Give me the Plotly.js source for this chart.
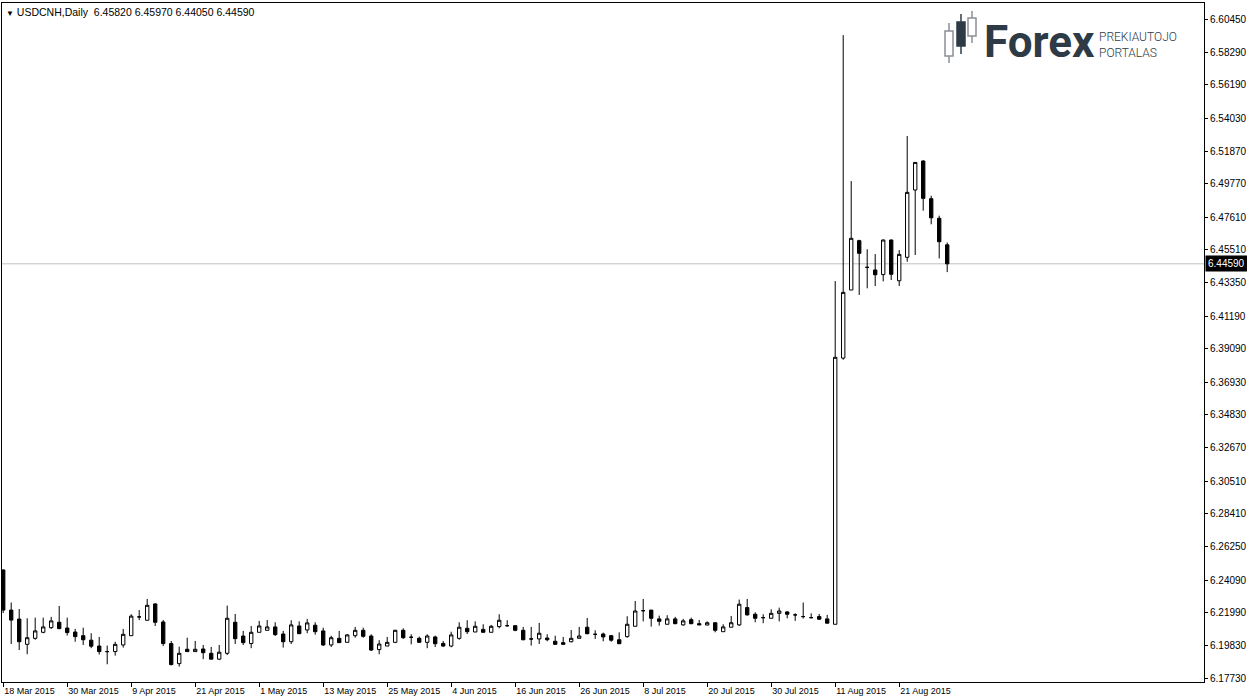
<!DOCTYPE html>
<html>
<head>
<meta charset="utf-8">
<script src="https://cdn.plot.ly/plotly-3.0.1.min.js"></script>
<style>
  html, body { margin: 0; padding: 0; background: #ffffff; }
  #chart { width: 1247px; height: 700px; }
</style>
</head>
<body>
<div id="chart"></div>
<script>
// ---- Data ----
const symbolTitle = "USDCNH,Daily";
const firstDate = "2015-03-18";

const openVals = [
  6.2475, 6.2215, 6.2157, 6.1993, 6.2032, 6.2071, 6.2101, 6.2136, 6.2099, 6.2073,
  6.2049, 6.2020, 6.1982, 6.1946, 6.1946, 6.1989, 6.2049, 6.2171, 6.2149, 6.2255,
  6.2138, 6.1998, 6.1868, 6.1961, 6.1946, 6.1963, 6.1935, 6.1897, 6.1935, 6.2136,
  6.2047, 6.1998, 6.2071, 6.2084, 6.2106, 6.2060, 6.2010, 6.2112, 6.2086, 6.2117,
  6.2080, 6.1989, 6.2032, 6.2006, 6.2049, 6.2084, 6.2047, 6.1959, 6.1982, 6.2006,
  6.2084, 6.2039, 6.2032, 6.2006, 6.2041, 6.1999, 6.1982, 6.2032, 6.2097, 6.2073,
  6.2090, 6.2071, 6.2108, 6.2114, 6.2114, 6.2084, 6.2028, 6.2028, 6.2034, 6.2013,
  6.2004, 6.2010, 6.2032, 6.2104, 6.2058, 6.2060, 6.2049, 6.2023, 6.2043, 6.2110,
  6.2211, 6.2215, 6.2158, 6.2123, 6.2158, 6.2119, 6.2153, 6.2127, 6.2118, 6.2133,
  6.2075, 6.2104, 6.2119, 6.2231, 6.2188, 6.2166, 6.2162, 6.2194, 6.2203, 6.2184,
  6.2173, 6.2166, 6.2173, 6.2158, 6.2123, 6.3848, 6.4289, 6.4609, 6.4436, 6.4419,
  6.4389, 6.4613, 6.4349, 6.4501, 6.4937, 6.5125, 6.4881, 6.4754, 6.4582
];
const highVals = [
  6.2478, 6.2264, 6.2222, 6.2162, 6.2166, 6.2166, 6.2171, 6.2242, 6.2166, 6.2093,
  6.2101, 6.2065, 6.2041, 6.1985, 6.2010, 6.2093, 6.2188, 6.2215, 6.2287, 6.2259,
  6.2151, 6.2015, 6.1978, 6.2036, 6.2015, 6.1989, 6.1976, 6.1989, 6.2244, 6.2190,
  6.2080, 6.2112, 6.2145, 6.2151, 6.2136, 6.2080, 6.2149, 6.2142, 6.2158, 6.2136,
  6.2101, 6.2049, 6.2080, 6.2060, 6.2106, 6.2101, 6.2058, 6.2020, 6.2041, 6.2088,
  6.2097, 6.2058, 6.2043, 6.2058, 6.2049, 6.2015, 6.2075, 6.2136, 6.2149, 6.2142,
  6.2123, 6.2119, 6.2188, 6.2149, 6.2114, 6.2106, 6.2106, 6.2132, 6.2058, 6.2049,
  6.2041, 6.2086, 6.2106, 6.2164, 6.2084, 6.2069, 6.2054, 6.2071, 6.2175, 6.2274,
  6.2287, 6.2215, 6.2179, 6.2182, 6.2171, 6.2158, 6.2166, 6.2151, 6.2142, 6.2136,
  6.2123, 6.2177, 6.2283, 6.2287, 6.2201, 6.2188, 6.2220, 6.2231, 6.2209, 6.2194,
  6.2264, 6.2194, 6.2190, 6.2184, 6.4347, 6.5941, 6.4995, 6.4615, 6.4553, 6.4522,
  6.4617, 6.4617, 6.4548, 6.5287, 6.5116, 6.5131, 6.4900, 6.4771, 6.4597
];
const lowVals = [
  6.2196, 6.1995, 6.1956, 6.1929, 6.2023, 6.2065, 6.2093, 6.2091, 6.2050, 6.2010,
  6.1989, 6.1968, 6.1927, 6.1864, 6.1920, 6.1972, 6.2049, 6.2150, 6.2149, 6.2112,
  6.1982, 6.1856, 6.1849, 6.1946, 6.1946, 6.1897, 6.1897, 6.1891, 6.1924, 6.1995,
  6.1989, 6.1968, 6.2071, 6.2084, 6.2047, 6.1972, 6.1995, 6.2062, 6.2065, 6.2056,
  6.1982, 6.1976, 6.2004, 6.2006, 6.2036, 6.2036, 6.1950, 6.1929, 6.1982, 6.2001,
  6.2028, 6.1993, 6.2006, 6.1968, 6.1976, 6.1976, 6.1974, 6.2023, 6.2060, 6.2073,
  6.2071, 6.2071, 6.2097, 6.2106, 6.2078, 6.2019, 6.1985, 6.1995, 6.2013, 6.1993,
  6.1993, 6.2006, 6.2032, 6.2058, 6.2028, 6.2013, 6.2010, 6.1997, 6.2036, 6.2110,
  6.2142, 6.2108, 6.2114, 6.2123, 6.2123, 6.2114, 6.2123, 6.2119, 6.2118, 6.2071,
  6.2075, 6.2104, 6.2112, 6.2179, 6.2136, 6.2130, 6.2162, 6.2142, 6.2162, 6.2145,
  6.2160, 6.2162, 6.2151, 6.2130, 6.2123, 6.3837, 6.4289, 6.4257, 6.4300, 6.4315,
  6.4345, 6.4354, 6.4315, 6.4472, 6.4516, 6.4803, 6.4715, 6.4494, 6.4405
];
const closeVals = [
  6.2215, 6.2150, 6.2010, 6.2036, 6.2080, 6.2106, 6.2145, 6.2095, 6.2069, 6.2043,
  6.2023, 6.1981, 6.1946, 6.1946, 6.1993, 6.2058, 6.2176, 6.2171, 6.2246, 6.2136,
  6.1998, 6.1862, 6.1935, 6.1946, 6.1961, 6.1939, 6.1897, 6.1942, 6.2162, 6.2030,
  6.2004, 6.2071, 6.2112, 6.2106, 6.2056, 6.2010, 6.2119, 6.2062, 6.2132, 6.2075,
  6.1989, 6.2036, 6.2004, 6.2054, 6.2084, 6.2045, 6.1956, 6.1995, 6.2006, 6.2084,
  6.2036, 6.2039, 6.2006, 6.2047, 6.1997, 6.1982, 6.2054, 6.2104, 6.2075, 6.2110,
  6.2071, 6.2110, 6.2149, 6.2114, 6.2084, 6.2023, 6.2028, 6.2065, 6.2023, 6.1993,
  6.1993, 6.2032, 6.2047, 6.2062, 6.2058, 6.2041, 6.2020, 6.1997, 6.2123, 6.2209,
  6.2211, 6.2162, 6.2142, 6.2158, 6.2127, 6.2145, 6.2127, 6.2119, 6.2133, 6.2084,
  6.2106, 6.2133, 6.2253, 6.2184, 6.2162, 6.2166, 6.2194, 6.2209, 6.2188, 6.2184,
  6.2173, 6.2166, 6.2156, 6.2130, 6.3853, 6.4274, 6.4624, 6.4527, 6.4436, 6.4388,
  6.4613, 6.4391, 6.4520, 6.4922, 6.5116, 6.4883, 6.4757, 6.4602, 6.4459
];

const priceTicks = [
  6.60450, 6.58290, 6.56190, 6.54030, 6.51870, 6.49770, 6.47610, 6.45510,
  6.43350, 6.41190, 6.39090, 6.36930, 6.34830, 6.32670, 6.30510, 6.28410,
  6.26250, 6.24090, 6.21990, 6.19830, 6.17730
];
const dateTickLabels = [
  "18 Mar 2015", "30 Mar 2015", "9 Apr 2015", "21 Apr 2015", "1 May 2015",
  "13 May 2015", "25 May 2015", "4 Jun 2015", "16 Jun 2015", "26 Jun 2015",
  "8 Jul 2015", "20 Jul 2015", "30 Jul 2015", "11 Aug 2015", "21 Aug 2015"
];
const dateTickEvery = 8;

// ---- Trading days (weekdays) as categories ----
function pad(n) { return (n < 10 ? "0" : "") + n; }
const dates = [];
(function () {
  const d = new Date(firstDate + "T12:00:00Z");
  while (dates.length < openVals.length) {
    const wd = d.getUTCDay();
    if (wd !== 0 && wd !== 6) {
      dates.push(d.getUTCFullYear() + "-" + pad(d.getUTCMonth() + 1) + "-" + pad(d.getUTCDate()));
    }
    d.setUTCDate(d.getUTCDate() + 1);
  }
})();
const dateTickVals = dateTickLabels.map((_, i) => dates[i * dateTickEvery]);

const n = openVals.length;
const lastO = openVals[n - 1], lastH = highVals[n - 1], lastL = lowVals[n - 1], lastC = closeVals[n - 1];

const FONT = "Liberation Sans, Arial, sans-serif";
const INK = "#2e3b46";

const trace = {
  type: "candlestick",
  x: dates,
  open: openVals,
  high: highVals,
  low: lowVals,
  close: closeVals,
  whiskerwidth: 0,
  increasing: { line: { color: "#000000", width: 1 }, fillcolor: "#ffffff" },
  decreasing: { line: { color: "#000000", width: 1 }, fillcolor: "#000000" },
  hoverinfo: "skip",
  showlegend: false
};

// paper-coordinate helpers for the decorative logo (plot area 2..1204 x 3..682 px)
function px(x) { return (x - 2) / 1202; }
function py(y) { return 1 - (y - 3) / 679; }
function logoCandle(x0, x1, yb0, yb1, yw0, yw1, filled) {
  const xc = (x0 + x1) / 2;
  return [
    { type: "line", xref: "paper", yref: "paper", x0: px(xc), x1: px(xc), y0: py(yw0), y1: py(yw1),
      line: { color: filled ? INK : "#8a9096", width: 1.5 } },
    { type: "rect", xref: "paper", yref: "paper", x0: px(x0), x1: px(x1), y0: py(yb0), y1: py(yb1),
      fillcolor: filled ? INK : "#ffffff", line: { color: filled ? INK : "#8a9096", width: 1.5 } }
  ];
}

const shapes = [
  { type: "line", xref: "paper", yref: "y", x0: 0, x1: 1, y0: lastC, y1: lastC,
    line: { color: "#c0c0c0", width: 1 }, layer: "below" }
].concat(
  logoCandle(945, 953, 31, 56, 23, 63, false),
  logoCandle(957, 965, 22, 46, 14, 54, true),
  logoCandle(968, 976, 18, 36, 11, 43, false)
);

const annotations = [
  { xref: "paper", yref: "paper", x: 0, y: 1, xanchor: "left", yanchor: "top", xshift: 2, yshift: -1,
    showarrow: false, align: "left",
    text: "<span style='font-size:8px'>▼</span> " + symbolTitle + "  " +
          [lastO, lastH, lastL, lastC].map(v => v.toFixed(5)).join(" "),
    font: { family: FONT, size: 10.5, color: "#000000" } },
  { xref: "paper", yref: "y", x: 1, y: lastC, xanchor: "left", yanchor: "middle", xshift: 1,
    showarrow: false, text: lastC.toFixed(5), bgcolor: "#000000", borderpad: 2,
    font: { family: FONT, size: 10, color: "#ffffff" } },
  { xref: "paper", yref: "paper", x: px(982), y: py(42), xanchor: "left", yanchor: "middle",
    showarrow: false, text: "<b>Forex</b>",
    font: { family: "Roboto, Lato, sans-serif", size: 44, color: INK, weight: 900 } },
  { xref: "paper", yref: "paper", x: px(1097), y: py(45), xanchor: "left", yanchor: "middle",
    showarrow: false, align: "left", text: "PREKIAUTOJO<br>PORTALAS",
    font: { family: "Roboto, sans-serif", size: 12, color: INK, weight: 300 } }
];

const layout = {
  width: 1247,
  height: 700,
  autosize: false,
  margin: { l: 2, r: 43, t: 3, b: 18, pad: 0 },
  paper_bgcolor: "#ffffff",
  plot_bgcolor: "#ffffff",
  boxgap: 0.4,
  showlegend: false,
  dragmode: false,
  xaxis: {
    type: "category",
    range: [-0.15, 150.1],
    rangeslider: { visible: false },
    showgrid: false,
    zeroline: false,
    showline: true,
    linecolor: "#000000",
    linewidth: 1,
    mirror: true,
    ticks: "outside",
    ticklen: 4,
    tickcolor: "#000000",
    tickvals: dateTickVals,
    ticktext: dateTickLabels,
    ticklabelposition: "outside right",
    tickangle: 0,
    tickfont: { family: FONT, size: 9, color: "#000000" }
  },
  yaxis: {
    side: "right",
    range: [6.1749, 6.6149],
    showgrid: false,
    zeroline: false,
    showline: true,
    linecolor: "#000000",
    linewidth: 1,
    mirror: true,
    ticks: "outside",
    ticklen: 3,
    tickcolor: "#000000",
    tickvals: priceTicks,
    tickformat: ".5f",
    tickfont: { family: FONT, size: 10, color: "#000000" }
  },
  shapes: shapes,
  annotations: annotations
};

Plotly.newPlot("chart", [trace], layout, { staticPlot: true, displayModeBar: false });
</script>
</body>
</html>
